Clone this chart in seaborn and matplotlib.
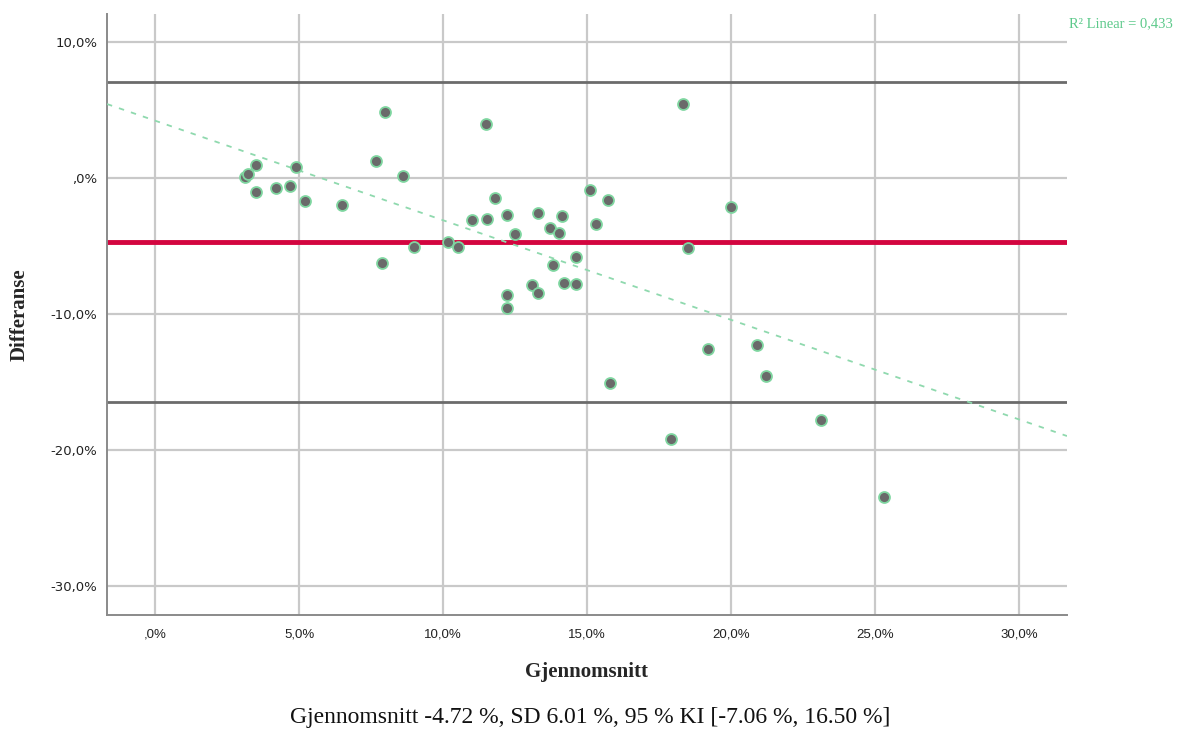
import numpy as np
import pandas as pd
import matplotlib
matplotlib.use("Agg")
import matplotlib.pyplot as plt
from matplotlib.ticker import FuncFormatter, MultipleLocator
import seaborn as sns

# ---- data ----
mean_vals = [3.13, 3.23, 3.51, 3.51, 4.20, 4.69, 4.90, 5.21, 6.49, 7.67,
             7.99, 7.88, 8.61, 8.99, 10.17, 10.52, 11.01, 11.49, 11.53, 11.81,
             12.22, 12.22, 12.22, 12.50, 13.09, 13.30, 13.30, 13.72, 13.82, 14.03,
             14.13, 18.32, 15.12, 15.72, 15.31, 20.01, 18.51, 14.62, 14.20, 14.62,
             19.21, 20.91, 21.22, 15.80, 23.11, 17.92, 25.32]
diff_vals = [0.07, 0.29, 0.96, -1.03, -0.74, -0.59, 0.81, -1.69, -1.99, 1.25,
             4.85, -6.25, 0.15, -5.07, -4.71, -5.07, -3.09, 3.97, -3.01, -1.47,
             -2.72, -8.60, -9.56, -4.12, -7.87, -2.57, -8.46, -3.68, -6.40, -4.04,
             -2.79, 5.46, -0.91, -1.62, -3.41, -2.11, -5.12, -5.81, -7.70, -7.79,
             -12.60, -12.30, -14.56, -15.10, -17.79, -19.19, -23.48]
mean_diff = -4.72
loa_upper = 7.06
loa_lower = -16.50
r2_text = "R\u00b2 Linear = 0,433"
caption = "Gjennomsnitt -4.72 %, SD 6.01 %, 95 % KI [-7.06 %, 16.50 %]"
x_label = "Gjennomsnitt"
y_label = "Differanse"

df = pd.DataFrame({"Gjennomsnitt": mean_vals, "Differanse": diff_vals})

sns.set_style("white")
plt.rcParams["font.family"] = ["DejaVu Sans"]

fig = plt.figure(figsize=(11.98, 7.31), dpi=100)
ax = fig.add_axes([107 / 1198, 1 - 615 / 731, (1067 - 107) / 1198, (615 - 14) / 731])

ax.set_xlim(-1.67, 31.67)
ax.set_ylim(-32.13, 12.06)
ax.xaxis.set_major_locator(MultipleLocator(5))
ax.yaxis.set_major_locator(MultipleLocator(10))


def pct_fmt(v, pos=None):
    s = f"{v:.1f}".replace(".", ",")
    if s.startswith("-0,"):
        s = s[1:]
    if s.startswith("0,"):
        s = s[1:]
    return s + "%"


ax.xaxis.set_major_formatter(FuncFormatter(pct_fmt))
ax.yaxis.set_major_formatter(FuncFormatter(pct_fmt))

ax.grid(True, color="#c9c9c9", linewidth=1.6)
ax.set_axisbelow(True)

# limits of agreement and mean
ax.axhline(loa_upper, color="#6b6b6b", linewidth=2.0, zorder=2)
ax.axhline(loa_lower, color="#6b6b6b", linewidth=2.0, zorder=2)
ax.axhline(mean_diff, color="#d3053f", linewidth=3.5, zorder=2)

# linear fit line (dashed, light green)
sns.regplot(data=df, x="Gjennomsnitt", y="Differanse", scatter=False, ci=None,
            truncate=False, ax=ax,
            line_kws=dict(color="#8fd9ae", linewidth=1.3, linestyle=(0, (3, 4)), zorder=3))

sns.scatterplot(data=df, x="Gjennomsnitt", y="Differanse", ax=ax, s=62,
                color="#6a6a6a", edgecolor="#7fd6a0", linewidth=1.3, zorder=4)

ax.set_xlim(-1.67, 31.67)
ax.set_ylim(-32.13, 12.06)

for side in ["top", "right"]:
    ax.spines[side].set_visible(False)
for side in ["left", "bottom"]:
    ax.spines[side].set_color("#8a8a8a")
    ax.spines[side].set_linewidth(1.4)

ax.tick_params(axis="both", length=0)
ax.tick_params(axis="y", labelsize=9.5, pad=7, colors="#222222")
ax.tick_params(axis="x", labelsize=9.5, pad=10, colors="#222222")
for lab in ax.get_xticklabels():
    lab.set_family("Liberation Sans")

ax.set_xlabel(x_label, family="Liberation Serif", fontweight="bold", fontsize=15)
ax.set_ylabel(y_label, family="Liberation Serif", fontweight="bold", fontsize=15)
ax.xaxis.set_label_coords(0.5, -(672 - 615) / 601)
ax.yaxis.set_label_coords(-(107 - 20) / 960, 0.5)
ax.xaxis.label.set_va("center")
ax.yaxis.label.set_va("center")

fig.text(1069 / 1198, 1 - 24 / 731, r2_text, family="Liberation Serif", fontsize=10.5,
         color="#5cc98a", ha="left", va="center")
fig.text(590 / 1198, 1 - 717 / 731, caption, family="Liberation Serif", fontsize=17,
         color="#111111", ha="center", va="center")

fig.savefig("out.png", dpi=100)
